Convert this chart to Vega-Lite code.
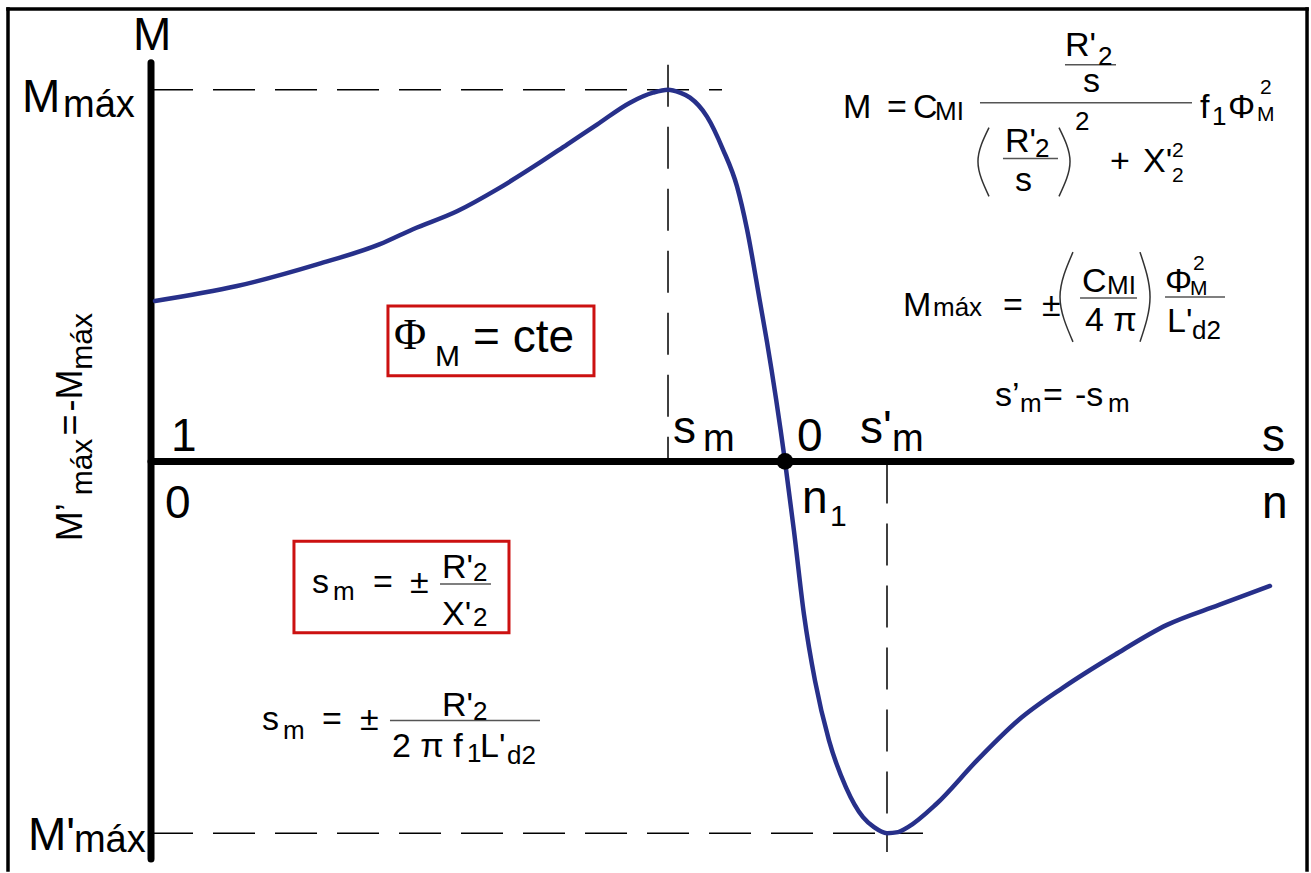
{
  "$schema": "https://vega.github.io/schema/vega-lite/v6.json",
  "width": 1311,
  "height": 873,
  "padding": 0,
  "autosize": {"type": "fit", "contains": "padding"},
  "background": "white",
  "config": {"view": {"stroke": null}},
  "datasets": {
    "frame": [
      {"n": -0.2333, "M": 1.2172, "n2": -0.2333, "M2": -1.0992},
      {"n": -0.2333, "M": 1.2172, "n2": 1.8286, "M2": 1.2172},
      {"n": 1.8286, "M": 1.2172, "n2": 1.8286, "M2": -1.0992}
    ],
    "guides": [
      {"n": -0.0063, "M": 1.0, "n2": 0.9, "M2": 1.0},
      {"n": 0.8143, "M": 1.067, "n2": 0.8143, "M2": 0},
      {"n": -0.0063, "M": -1.0, "n2": 1.219, "M2": -1.0},
      {"n": 1.1619, "M": 0, "n2": 1.1619, "M2": -1.0509}
    ],
    "axes": [
      {"n": -0.0063, "M": 1.0724, "n2": -0.0063, "M2": -1.0697},
      {"n": -0.0063, "M": 0, "n2": 1.8032, "M2": 0}
    ],
    "curve": [
      {"n": 0, "M": 0.4316},
      {"n": 0.1302, "M": 0.4718},
      {"n": 0.2587, "M": 0.5308},
      {"n": 0.3571, "M": 0.5845},
      {"n": 0.4095, "M": 0.6247},
      {"n": 0.4794, "M": 0.6729},
      {"n": 0.5429, "M": 0.7319},
      {"n": 0.6063, "M": 0.7989},
      {"n": 0.654, "M": 0.8525},
      {"n": 0.7016, "M": 0.9062},
      {"n": 0.754, "M": 0.9651},
      {"n": 0.7905, "M": 0.992},
      {"n": 0.8143, "M": 1.0},
      {"n": 0.8333, "M": 0.992},
      {"n": 0.8492, "M": 0.9786},
      {"n": 0.8762, "M": 0.9276},
      {"n": 0.9016, "M": 0.8391},
      {"n": 0.9238, "M": 0.7399},
      {"n": 0.9397, "M": 0.6247},
      {"n": 0.9603, "M": 0.429},
      {"n": 0.9714, "M": 0.3217},
      {"n": 1.0, "M": 0},
      {"n": 1.0143, "M": -0.1877},
      {"n": 1.0302, "M": -0.4129},
      {"n": 1.0476, "M": -0.5898},
      {"n": 1.0698, "M": -0.7507},
      {"n": 1.0968, "M": -0.8767},
      {"n": 1.1238, "M": -0.9571},
      {"n": 1.1413, "M": -0.9839},
      {"n": 1.1619, "M": -1.0},
      {"n": 1.1794, "M": -0.9973},
      {"n": 1.1952, "M": -0.9839},
      {"n": 1.2397, "M": -0.9223},
      {"n": 1.3048, "M": -0.8043},
      {"n": 1.3698, "M": -0.6971},
      {"n": 1.4413, "M": -0.6086},
      {"n": 1.5238, "M": -0.5201},
      {"n": 1.6063, "M": -0.4397},
      {"n": 1.6889, "M": -0.3861},
      {"n": 1.7698, "M": -0.3351}
    ],
    "sync": [{"n": 1.0, "M": 0}],
    "boxes": [
      {"n": 0.3698, "M": 0.4182, "n2": 0.6968, "M2": 0.2306},
      {"n": 0.2206, "M": -0.2145, "n2": 0.5619, "M2": -0.4611}
    ],
    "bars": [
      {"n": 1.4444, "M": 1.067, "n2": 1.5254, "M2": 1.067},
      {"n": 1.3095, "M": 0.9651, "n2": 1.646, "M2": 0.9651},
      {"n": 1.346, "M": 0.815, "n2": 1.4333, "M2": 0.815},
      {"n": 1.4683, "M": 0.4397, "n2": 1.5587, "M2": 0.4397},
      {"n": 1.6032, "M": 0.4424, "n2": 1.6984, "M2": 0.4424},
      {"n": 0.4524, "M": -0.3298, "n2": 0.5333, "M2": -0.3298},
      {"n": 0.373, "M": -0.6971, "n2": 0.6111, "M2": -0.6971}
    ],
    "parens": [
      {"id": "a", "k": 0, "n": 1.3238, "M": 0.8981},
      {"id": "a", "k": 1, "n": 1.3063, "M": 0.807},
      {"id": "a", "k": 2, "n": 1.3238, "M": 0.7131},
      {"id": "b", "k": 0, "n": 1.4349, "M": 0.8981},
      {"id": "b", "k": 1, "n": 1.4524, "M": 0.807},
      {"id": "b", "k": 2, "n": 1.4349, "M": 0.7131},
      {"id": "c", "k": 0, "n": 1.4571, "M": 0.563},
      {"id": "c", "k": 1, "n": 1.4365, "M": 0.4424},
      {"id": "c", "k": 2, "n": 1.4571, "M": 0.3217},
      {"id": "d", "k": 0, "n": 1.5635, "M": 0.563},
      {"id": "d", "k": 1, "n": 1.5794, "M": 0.4424},
      {"id": "d", "k": 2, "n": 1.5635, "M": 0.3217}
    ],
    "lbl": [
      {"t": "M", "n": -0.0349, "M": 1.1072},
      {"t": "M", "n": -0.2111, "M": 0.941},
      {"t": "M'", "n": -0.2016, "M": -1.0456},
      {"t": "1", "n": 0.0254, "M": 0.0268},
      {"t": "0", "n": 0.0159, "M": -0.1528},
      {"t": "s", "n": 0.8222, "M": 0.0483},
      {"t": "0", "n": 1.019, "M": 0.0268},
      {"t": "s'", "n": 1.119, "M": 0.0483},
      {"t": "n", "n": 1.027, "M": -0.1394},
      {"t": "s", "n": 1.7571, "M": 0.0268},
      {"t": "n", "n": 1.7571, "M": -0.1528},
      {"t": "= cte", "n": 0.5048, "M": 0.2949}
    ],
    "lblSub": [
      {"t": "máx", "n": -0.146, "M": 0.9276},
      {"t": "máx", "n": -0.1286, "M": -1.0509},
      {"t": "m", "n": 0.8698, "M": 0.0268},
      {"t": "m", "n": 1.1698, "M": 0.0268}
    ],
    "phi": [
      {"t": "Φ", "n": 0.3794, "M": 0.3029}
    ],
    "mid": [
      {"t": "M", "n": 0.4444, "M": 0.2574},
      {"t": "1", "n": 1.0714, "M": -0.1743}
    ],
    "eq": [
      {"t": "M", "n": 1.0921, "M": 0.9249},
      {"t": "=", "n": 1.1619, "M": 0.9249},
      {"t": "C", "n": 1.2032, "M": 0.9249},
      {"t": "f", "n": 1.6587, "M": 0.9249},
      {"t": "Φ", "n": 1.7032, "M": 0.9249},
      {"t": "R'", "n": 1.4444, "M": 1.0912},
      {"t": "s", "n": 1.473, "M": 0.9946},
      {"t": "R'", "n": 1.3492, "M": 0.8311},
      {"t": "s", "n": 1.3651, "M": 0.7265},
      {"t": "+", "n": 1.5159, "M": 0.7775},
      {"t": "X'", "n": 1.5683, "M": 0.7775},
      {"t": "M", "n": 1.1873, "M": 0.3914},
      {"t": "=", "n": 1.346, "M": 0.3914},
      {"t": "±", "n": 1.4079, "M": 0.3914},
      {"t": "C", "n": 1.4714, "M": 0.4558},
      {"t": "4 π", "n": 1.4762, "M": 0.3512},
      {"t": "Φ", "n": 1.6032, "M": 0.4558},
      {"t": "L'", "n": 1.6063, "M": 0.3485},
      {"t": "s’", "n": 1.3333, "M": 0.1501},
      {"t": "=", "n": 1.4095, "M": 0.1501},
      {"t": "-s", "n": 1.4603, "M": 0.1501},
      {"t": "s", "n": 0.2492, "M": -0.3539},
      {"t": "=", "n": 0.346, "M": -0.3539},
      {"t": "±", "n": 0.4048, "M": -0.3539},
      {"t": "R'", "n": 0.4556, "M": -0.3137},
      {"t": "X'", "n": 0.4556, "M": -0.4397},
      {"t": "s", "n": 0.1698, "M": -0.7239},
      {"t": "=", "n": 0.2651, "M": -0.7239},
      {"t": "±", "n": 0.3254, "M": -0.7239},
      {"t": "R'", "n": 0.4556, "M": -0.6836},
      {"t": "2 π f", "n": 0.3762, "M": -0.7962},
      {"t": "L'", "n": 0.5159, "M": -0.7962}
    ],
    "eqSub": [
      {"t": "MI", "n": 1.2381, "M": 0.9196},
      {"t": "2", "n": 1.4968, "M": 1.067},
      {"t": "2", "n": 1.3968, "M": 0.8177},
      {"t": "2", "n": 1.4603, "M": 0.8928},
      {"t": "1", "n": 1.6778, "M": 0.9062},
      {"t": "máx", "n": 1.2349, "M": 0.3914},
      {"t": "MI", "n": 1.5111, "M": 0.4504},
      {"t": "d2", "n": 1.646, "M": 0.3298},
      {"t": "m", "n": 1.373, "M": 0.134},
      {"t": "m", "n": 1.5127, "M": 0.134},
      {"t": "m", "n": 0.2825, "M": -0.3727},
      {"t": "2", "n": 0.5048, "M": -0.3217},
      {"t": "2", "n": 0.5048, "M": -0.4424},
      {"t": "m", "n": 0.2032, "M": -0.748},
      {"t": "2", "n": 0.5048, "M": -0.6944},
      {"t": "1", "n": 0.4952, "M": -0.8097},
      {"t": "d2", "n": 0.5587, "M": -0.815}
    ],
    "stack": [
      {"t": "2", "n": 1.6143, "M": 0.8177},
      {"t": "2", "n": 1.6143, "M": 0.7507},
      {"t": "2", "n": 1.754, "M": 0.9893},
      {"t": "M", "n": 1.7492, "M": 0.9169},
      {"t": "2", "n": 1.6476, "M": 0.5147},
      {"t": "M", "n": 1.6429, "M": 0.4477}
    ],
    "vert": [
      {"t": "M’", "n": -0.1159, "M": -0.2145},
      {"t": "=", "n": -0.1159, "M": 0.0697},
      {"t": "-M", "n": -0.1159, "M": 0.134}
    ],
    "vertSub": [
      {"t": "máx", "n": -0.1, "M": -0.0912},
      {"t": "máx", "n": -0.1, "M": 0.2466}
    ]
  },
  "encoding": {
    "x": {"field": "n", "type": "quantitative", "scale": {"domain": [-0.246, 1.8349], "nice": false, "zero": false}, "axis": null},
    "y": {"field": "M", "type": "quantitative", "scale": {"domain": [-1.0992, 1.2413], "nice": false, "zero": false}, "axis": null}
  },
  "layer": [
    {
      "data": {"name": "frame"},
      "mark": {"type": "rule", "color": "black", "strokeWidth": 3.5, "strokeCap": "square"},
      "encoding": {"x2": {"field": "n2"}, "y2": {"field": "M2"}}
    },
    {
      "data": {"name": "guides"},
      "mark": {"type": "rule", "color": "black", "strokeWidth": 1.5, "strokeDash": [42, 20]},
      "encoding": {"x2": {"field": "n2"}, "y2": {"field": "M2"}}
    },
    {
      "data": {"name": "axes"},
      "mark": {"type": "rule", "color": "black", "strokeWidth": 7, "strokeCap": "round"},
      "encoding": {"x2": {"field": "n2"}, "y2": {"field": "M2"}}
    },
    {
      "data": {"name": "curve"},
      "mark": {"type": "line", "color": "#27308A", "strokeWidth": 4.5, "interpolate": "monotone", "strokeCap": "round"}
    },
    {
      "data": {"name": "sync"},
      "mark": {"type": "point", "filled": true, "color": "black", "opacity": 1, "size": 280}
    },
    {
      "data": {"name": "boxes"},
      "mark": {"type": "rect", "fill": null, "fillOpacity": 0, "stroke": "#CC1111", "strokeWidth": 3},
      "encoding": {"x2": {"field": "n2"}, "y2": {"field": "M2"}}
    },
    {
      "data": {"name": "bars"},
      "mark": {"type": "rule", "color": "#555555", "strokeWidth": 1.5},
      "encoding": {"x2": {"field": "n2"}, "y2": {"field": "M2"}}
    },
    {
      "data": {"name": "parens"},
      "mark": {"type": "line", "color": "#333333", "strokeWidth": 1.5, "interpolate": "natural"},
      "encoding": {"detail": {"field": "id"}, "order": {"field": "k"}}
    },
    {
      "data": {"name": "lbl"},
      "mark": {"type": "text", "font": "Liberation Sans", "fontSize": 46, "align": "left", "baseline": "alphabetic", "color": "black"},
      "encoding": {"text": {"field": "t"}}
    },
    {
      "data": {"name": "lblSub"},
      "mark": {"type": "text", "font": "Liberation Sans", "fontSize": 38, "align": "left", "baseline": "alphabetic", "color": "black"},
      "encoding": {"text": {"field": "t"}}
    },
    {
      "data": {"name": "phi"},
      "mark": {"type": "text", "font": "Liberation Serif", "fontSize": 44, "align": "left", "baseline": "alphabetic", "color": "black"},
      "encoding": {"text": {"field": "t"}}
    },
    {
      "data": {"name": "mid"},
      "mark": {"type": "text", "font": "Liberation Sans", "fontSize": 30, "align": "left", "baseline": "alphabetic", "color": "black"},
      "encoding": {"text": {"field": "t"}}
    },
    {
      "data": {"name": "eq"},
      "mark": {"type": "text", "font": "Liberation Sans", "fontSize": 34, "align": "left", "baseline": "alphabetic", "color": "black"},
      "encoding": {"text": {"field": "t"}}
    },
    {
      "data": {"name": "eqSub"},
      "mark": {"type": "text", "font": "Liberation Sans", "fontSize": 26, "align": "left", "baseline": "alphabetic", "color": "black"},
      "encoding": {"text": {"field": "t"}}
    },
    {
      "data": {"name": "stack"},
      "mark": {"type": "text", "font": "Liberation Sans", "fontSize": 21, "align": "left", "baseline": "alphabetic", "color": "black"},
      "encoding": {"text": {"field": "t"}}
    },
    {
      "data": {"name": "vert"},
      "mark": {"type": "text", "font": "Liberation Sans", "fontSize": 36, "angle": 270, "align": "left", "baseline": "alphabetic", "color": "black"},
      "encoding": {"text": {"field": "t"}}
    },
    {
      "data": {"name": "vertSub"},
      "mark": {"type": "text", "font": "Liberation Sans", "fontSize": 30, "angle": 270, "align": "left", "baseline": "alphabetic", "color": "black"},
      "encoding": {"text": {"field": "t"}}
    }
  ]
}
